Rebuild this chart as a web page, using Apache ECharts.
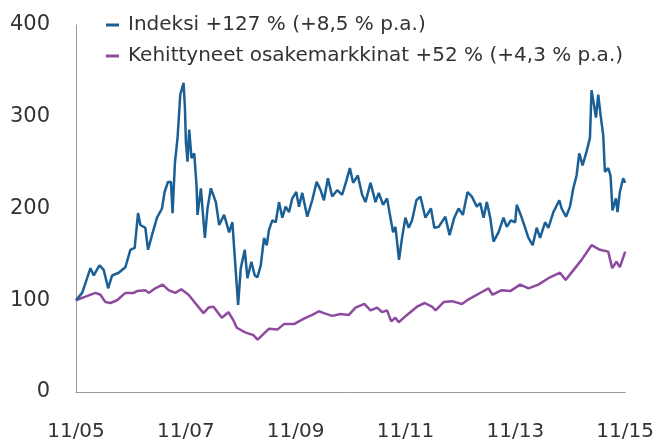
<!DOCTYPE html>
<html>
<head>
<meta charset="utf-8">
<script src="https://cdn.jsdelivr.net/npm/echarts@6/dist/echarts.min.js"></script>
<style>
  html, body { margin: 0; padding: 0; background: #fff; }
  #chartmain { width: 657px; height: 443px; }
</style>
</head>
<body>
<div id="chartmain"></div>
<script>
// x-akseli: kuukausia alkaen 11/05
var tickLabels = ['11/05', '11/07', '11/09', '11/11', '11/13', '11/15'];
var seriesNames = ['Indeksi +127 % (+8,5 % p.a.)', 'Kehittyneet osakemarkkinat +52 % (+4,3 % p.a.)'];

var indexMonths = [0, 1.35, 3.16, 3.88, 5.12, 6.06, 7.02, 7.89, 9.33, 10.79, 11.88, 12.82, 13.56, 14.06, 15.15, 15.74,
    16.61, 17.70, 18.79, 19.36, 20.10, 20.75, 21.10, 21.62, 22.19, 22.78, 23.50, 23.80, 24.02, 24.37, 24.74, 25.24,
    25.83, 26.33, 26.55, 27.29, 28.16, 28.73, 29.47, 30.56, 31.28, 32.37, 33.46, 34.18, 34.55, 34.92, 35.42, 36.01,
    36.88, 37.45, 38.32, 39.06, 39.63, 40.37, 41.09, 41.68, 42.18, 42.90, 43.64, 44.36, 45.08, 45.82, 46.54, 47.26,
    48.13, 48.72, 49.44, 50.53, 51.62, 52.58, 53.45, 54.17, 55.04, 55.98, 57.07, 58.16, 59.12, 59.84, 60.56, 61.58,
    62.52, 63.26, 64.35, 65.44, 66.16, 67.10, 67.97, 68.71, 69.28, 69.80, 70.58, 71.24, 71.98, 72.70, 73.42, 74.38,
    75.25, 76.34, 77.56, 78.30, 79.24, 80.70, 81.63, 82.66, 83.60, 84.53, 85.56, 86.50, 87.59, 88.33, 89.05, 89.77,
    90.51, 91.23, 92.32, 93.41, 94.13, 95.00, 95.96, 96.31, 97.18, 98.14, 98.86, 99.79, 100.67, 101.41, 102.50, 103.22,
    104.31, 105.61, 106.11, 107.07, 107.94, 108.66, 109.38, 109.97, 110.69, 111.56, 112.30, 112.65, 113.18, 113.61, 114.11, 114.62,
    115.20, 115.57, 116.29, 116.79, 117.23, 117.97, 118.32, 118.84, 119.56, 120];
var indexValues = [100, 108, 135, 127, 138, 133, 113, 127, 130, 136, 155, 157, 195, 182, 179, 155,
    171, 190, 200, 218, 229, 229, 195, 250, 277, 324, 337, 310, 272, 251, 286, 255,
    260, 226, 193, 222, 168, 200, 222, 207, 182, 193, 174, 185, 157, 131, 95, 135,
    155, 124, 142, 127, 125, 138, 168, 160, 177, 187, 185, 207, 190, 202, 196, 211,
    218, 202, 217, 191, 209, 229, 220, 209, 233, 213, 220, 215, 231, 244, 228, 236,
    215, 207, 228, 207, 217, 204, 211, 190, 174, 180, 144, 168, 190, 179, 187, 209,
    213, 190, 200, 179, 180, 191, 171, 190, 200, 193, 218, 213, 202, 206, 190, 207,
    190, 164, 174, 190, 180, 187, 185, 204, 193, 179, 168, 160, 179, 168, 185, 179,
    196, 209, 200, 191, 202, 222, 236, 260, 247, 262, 277, 329, 313, 299, 324, 302,
    280, 240, 244, 236, 198, 211, 196, 218, 233, 228];

var marketMonths = [0, 2.07, 4.25, 5.34, 6.43, 7.52, 8.98, 10.79, 12.60, 13.34, 15.15, 15.87, 17.33, 18.92, 20.23, 21.69,
    23.00, 24.59, 26.05, 27.86, 28.95, 30.04, 31.87, 33.31, 34.40, 35.14, 36.95, 38.76, 39.67, 40.72, 42.18, 43.99,
    45.45, 47.63, 49.81, 51.62, 53.08, 54.17, 55.98, 57.81, 59.62, 61.08, 63.00, 64.35, 65.79, 66.88, 67.97, 68.88,
    69.80, 70.52, 72.33, 74.51, 76.19, 77.78, 78.58, 80.33, 82.14, 84.32, 85.78, 88.68, 90.14, 91.01, 93.04, 94.87,
    97.05, 98.86, 101.04, 103.22, 105.77, 106.99, 109.04, 110.47, 112.65, 114.48, 116.29, 117.16, 118.10, 118.84, 120];
var marketValues = [100, 104, 108, 106, 98, 97, 100, 108, 108, 110, 111, 108, 113, 117, 111, 108,
    112, 106, 97, 86, 92, 93, 81, 87, 78, 70, 65, 62, 57, 62, 69, 68,
    74, 74, 80, 84, 88, 86, 83, 85, 84, 92, 96, 89, 92, 87, 89, 77,
    81, 76, 84, 93, 97, 93, 89, 98, 99, 96, 101, 109, 113, 106, 111, 110,
    117, 113, 117, 124, 130, 122, 135, 144, 160, 155, 153, 135, 142, 136, 153];

function pairs(xs, ys) {
    return xs.map(function (x, i) { return [x, ys[i]]; });
}

var blue = '#1A5F95';
var purple = '#8D4A9E';
var font = 'DejaVu Sans';

var option = {
    animation: false,
    textStyle: { fontFamily: font },
    legend: {
        orient: 'vertical',
        left: 101,
        top: 10,
        itemGap: 11,
        itemWidth: 13,
        itemHeight: 3,
        icon: 'rect',
        textStyle: { fontSize: 20, color: '#333', fontFamily: font, padding: [0, 0, 0, 4] },
        data: seriesNames
    },
    grid: { left: 76, right: 30, top: 25, bottom: 51 },
    xAxis: {
        type: 'value',
        min: 0,
        max: 120,
        interval: 24,
        axisLine: { show: true, lineStyle: { color: '#9a9a9a', width: 1 } },
        axisTick: { show: false },
        splitLine: { show: false },
        axisLabel: {
            margin: 30,
            fontSize: 20,
            color: '#333',
            fontFamily: font,
            formatter: function (v) { return tickLabels[Math.round(v / 24)]; }
        }
    },
    yAxis: {
        type: 'value',
        min: 0,
        max: 400,
        interval: 100,
        axisLine: { show: true, lineStyle: { color: '#9a9a9a', width: 1 } },
        axisTick: { show: false },
        splitLine: { show: false },
        axisLabel: { margin: 26, fontSize: 21, color: '#333', fontFamily: font }
    },
    series: [{
        name: seriesNames[1],
        type: 'line',
        showSymbol: false,
        color: purple,
        lineStyle: { width: 2.5, color: purple },
        data: pairs(marketMonths, marketValues)
    }, {
        name: seriesNames[0],
        type: 'line',
        showSymbol: false,
        color: blue,
        lineStyle: { width: 2.5, color: blue },
        data: pairs(indexMonths, indexValues)
    }]
};

var myChart = echarts.init(document.getElementById('chartmain'));
myChart.setOption(option);
</script>
</body>
</html>
